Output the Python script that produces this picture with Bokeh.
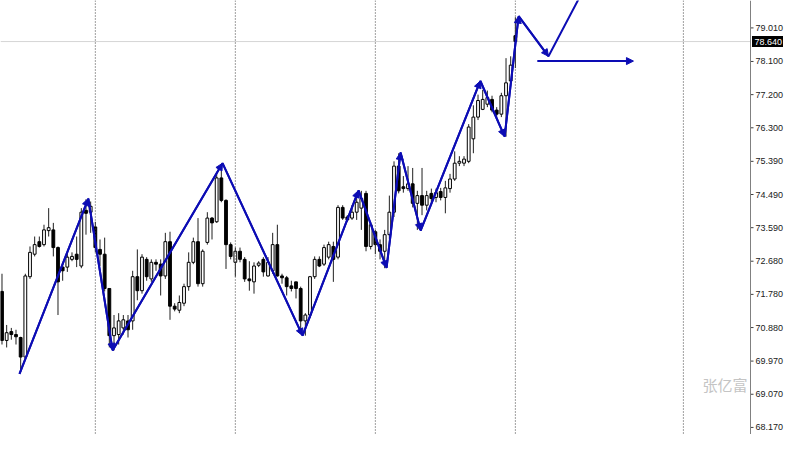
from bokeh.plotting import figure
from bokeh.models import Range1d, Span, Label, Arrow, NormalHead
from bokeh.core.properties import value
from bokeh.embed import file_html
from bokeh.resources import INLINE

# ---- data ----
opens = [71.86, 70.53, 70.77, 70.69, 70.61, 70.08, 72.26, 72.87, 73.21, 73.13,
         73.51, 73.53, 73.05, 72.52, 72.52, 72.73, 72.87, 72.55, 74.06, 74.01,
         73.61, 73.00, 72.87, 71.94, 70.66, 70.69, 70.87, 71.06, 71.06, 72.26,
         71.88, 72.73, 72.20, 72.65, 72.60, 72.28, 73.21, 71.46, 71.35, 71.54,
         71.99, 72.65, 73.21, 72.07, 73.19, 73.85, 73.75, 74.94, 74.33, 73.13,
         72.65, 72.95, 72.73, 72.20, 72.12, 72.57, 72.73, 72.28, 72.42, 73.13,
         72.28, 72.23, 72.01, 72.12, 71.94, 71.06, 71.22, 72.26, 72.73, 72.60,
         72.79, 73.08, 72.79, 74.14, 73.88, 73.85, 74.01, 74.12, 74.52, 73.08,
         73.48, 73.13, 72.95, 73.40, 74.01, 75.26, 74.70, 74.65, 74.78, 74.25,
         74.46, 74.20, 74.52, 74.41, 74.57, 74.41, 74.65, 74.91, 75.34, 75.34,
         75.39, 76.00, 76.59, 76.80, 76.94, 77.07, 76.78, 76.67, 77.17, 77.57,
         78.80]
highs = [72.34, 70.95, 70.87, 70.82, 70.63, 72.34, 73.08, 73.35, 73.35, 73.67,
         74.12, 73.72, 73.08, 72.65, 72.92, 72.92, 73.35, 74.12, 74.36, 74.30,
         73.75, 73.27, 73.32, 71.94, 71.22, 71.27, 71.22, 71.22, 72.42, 73.00,
         72.87, 72.79, 72.73, 72.73, 72.73, 73.45, 73.48, 71.54, 71.75, 72.07,
         72.92, 73.32, 73.85, 73.00, 74.01, 73.88, 75.07, 75.31, 74.36, 73.19,
         73.05, 73.05, 72.79, 72.68, 72.65, 72.68, 72.79, 72.79, 73.45, 73.67,
         72.34, 72.28, 72.15, 72.12, 71.99, 71.27, 72.28, 72.81, 72.81, 73.13,
         73.21, 73.21, 74.20, 74.20, 73.93, 74.20, 74.46, 74.59, 74.59, 73.75,
         73.53, 73.27, 73.53, 74.46, 75.39, 75.61, 74.99, 75.26, 75.21, 74.59,
         75.21, 74.59, 74.65, 74.65, 74.67, 74.86, 75.05, 75.66, 75.53, 75.53,
         76.40, 76.91, 77.20, 77.33, 77.31, 77.17, 76.86, 77.25, 78.19, 78.24,
         79.30]
lows = [70.42, 70.34, 70.55, 70.42, 69.68, 70.00, 72.20, 72.81, 73.05, 73.08,
        73.35, 72.81, 71.22, 72.15, 72.39, 72.68, 72.52, 72.49, 73.40, 73.45,
        72.92, 72.55, 71.86, 70.34, 70.26, 70.42, 70.69, 70.61, 70.82, 71.62,
        71.80, 72.15, 72.12, 72.42, 71.75, 72.20, 71.09, 71.32, 71.27, 71.46,
        71.88, 72.60, 71.99, 71.99, 73.13, 73.27, 73.72, 74.28, 72.47, 72.73,
        72.26, 72.65, 72.12, 71.88, 71.80, 72.52, 72.26, 72.26, 72.34, 72.26,
        72.07, 71.75, 71.86, 71.67, 70.82, 70.66, 71.14, 72.20, 72.52, 72.55,
        72.73, 72.12, 72.73, 73.80, 73.75, 73.80, 73.80, 73.53, 72.95, 73.00,
        72.87, 72.73, 72.49, 73.27, 73.88, 74.52, 74.54, 74.59, 74.14, 73.53,
        73.93, 74.06, 74.28, 74.28, 74.33, 73.98, 74.54, 74.86, 75.26, 75.26,
        75.34, 75.61, 76.51, 76.78, 76.86, 76.72, 76.59, 76.59, 76.06, 77.52,
        77.92]
closes = [70.53, 70.74, 70.69, 70.63, 70.08, 72.28, 72.92, 73.13, 73.08, 73.53,
          73.59, 73.05, 72.12, 72.42, 72.79, 72.81, 72.73, 74.01, 73.98, 74.17,
          73.05, 72.87, 71.94, 70.66, 70.87, 71.06, 71.09, 70.82, 72.26, 71.88,
          72.79, 72.26, 72.65, 72.60, 72.28, 73.21, 71.46, 71.38, 71.56, 71.99,
          72.65, 73.21, 72.07, 72.95, 73.85, 73.72, 74.94, 74.33, 73.13, 72.81,
          72.95, 72.73, 72.20, 72.15, 72.55, 72.63, 72.39, 72.65, 73.13, 72.28,
          72.23, 71.99, 71.94, 71.94, 71.06, 71.22, 72.26, 72.73, 72.55, 73.05,
          73.13, 72.73, 74.14, 73.85, 73.80, 74.01, 74.28, 74.38, 73.08, 73.67,
          73.13, 72.95, 73.40, 74.01, 75.26, 74.59, 74.65, 74.78, 74.25, 74.46,
          74.20, 74.46, 74.38, 74.54, 74.41, 74.67, 74.91, 75.34, 75.39, 75.45,
          76.32, 76.59, 77.04, 77.07, 77.12, 76.78, 76.67, 77.17, 77.52, 78.00,
          78.64]
bar_index = list(range(len(closes)))

# zigzag drawn over the candles (bar position, price)
zz_index = [3.75, 18.5, 23.7, 47.25, 64.4, 76.4, 82.4, 85.4, 89.7, 102.5, 107.7, 110.7, 117.1, 125.7]
zz_price = [69.62, 74.38, 70.26, 75.34, 70.66, 74.60, 72.50, 75.63, 73.51, 77.57, 76.06, 79.33, 78.24, 80.31]

# horizontal arrow
harrow_index = [114.7, 135.3]
harrow_price = [78.11, 78.11]

# period separators (bar positions)
separators = [20, 50, 80, 110, 146]

price_ticks = [79.010, 78.100, 77.200, 76.300, 75.390, 74.490, 73.590,
               72.680, 71.780, 70.880, 69.970, 69.070, 68.170]
last_price = 78.640
watermark = "张亿富"

# ---- layout / style ----
BLUE = "#0c0cb4"
W, H = 784, 434
X_START = -0.32
BAR_PX = 4.667                      # pixels per bar
UPX = 1.0 / BAR_PX                  # data units per pixel (x)
X_END = X_START + W * UPX
AXIS_X = X_START + 750 * UPX        # price scale line position
Y_START, Y_END = 67.978, 79.754
VPX = (Y_END - Y_START) / H         # data units per pixel (y)
FONT = value("Liberation Sans")

p = figure(width=W, height=H, output_backend="svg", toolbar_location=None,
           x_range=Range1d(X_START, X_END), y_range=Range1d(Y_START, Y_END),
           x_axis_location=None, y_axis_location=None,
           min_border_left=0, min_border_top=0, min_border_bottom=0, min_border_right=0)
p.grid.visible = False
p.outline_line_color = None
p.background_fill_color = "white"
p.border_fill_color = "white"

# period separators
for s in separators:
    p.add_layout(Span(location=s, dimension="height", line_color="#404040",
                      line_width=1, line_dash="1 2"))

# current price line (up to the price scale)
p.segment(x0=[X_START], y0=[last_price], x1=[AXIS_X], y1=[last_price],
          line_color="#d6d6d6", line_width=1)

# candles
p.segment(x0=bar_index, y0=lows, x1=bar_index, y1=highs, line_color="#202020", line_width=1)
up = [i for i in bar_index if closes[i] >= opens[i]]
dn = [i for i in bar_index if closes[i] < opens[i]]
p.vbar(x=up, top=[closes[i] for i in up], bottom=[opens[i] for i in up], width=0.6,
       fill_color="white", line_color="black", line_width=1)
p.vbar(x=dn, top=[opens[i] for i in dn], bottom=[closes[i] for i in dn], width=0.6,
       fill_color="black", line_color="black", line_width=1)

# zigzag
p.line(zz_index, zz_price, line_color=BLUE, line_width=2)
for k in range(1, len(zz_index) - 1):
    p.add_layout(Arrow(end=NormalHead(size=7, fill_color=BLUE, line_color=BLUE, line_width=1),
                       x_start=zz_index[k - 1], y_start=zz_price[k - 1],
                       x_end=zz_index[k], y_end=zz_price[k],
                       line_color=BLUE, line_width=2))

p.add_layout(Arrow(end=NormalHead(size=7, fill_color=BLUE, line_color=BLUE, line_width=1),
                   x_start=harrow_index[0], y_start=harrow_price[0],
                   x_end=harrow_index[1], y_end=harrow_price[1],
                   line_color=BLUE, line_width=2))

# price scale (right side)
p.add_layout(Span(location=AXIS_X, dimension="height", line_color="#808080", line_width=1))
p.segment(x0=[AXIS_X] * len(price_ticks), y0=price_ticks,
          x1=[AXIS_X + 3 * UPX] * len(price_ticks), y1=price_ticks,
          line_color="#404040", line_width=1)
p.text(x=[AXIS_X] * len(price_ticks), y=price_ticks,
       text=[f"{t:.3f}" for t in price_ticks], x_offset=5,
       text_align="left", text_baseline="middle",
       text_font=FONT, text_font_size="9px", text_color="#202020")

# current price tag
p.rect(x=[AXIS_X + 17 * UPX], y=[last_price], width=31, height=11,
       width_units="screen", height_units="screen",
       fill_color="black", line_color=None)
p.text(x=[AXIS_X], y=[last_price], text=[f"{last_price:.3f}"], x_offset=4,
       text_align="left", text_baseline="middle",
       text_font=FONT, text_font_size="9px", text_color="white")

# watermark
p.add_layout(Label(x=AXIS_X, y=69.33, text=watermark, x_offset=-3,
                   text_align="right", text_baseline="middle",
                   text_font="Noto Sans CJK SC", text_font_size="15px", text_color="#c4c4c4"))

open("out.html", "w").write(file_html(p, INLINE))
